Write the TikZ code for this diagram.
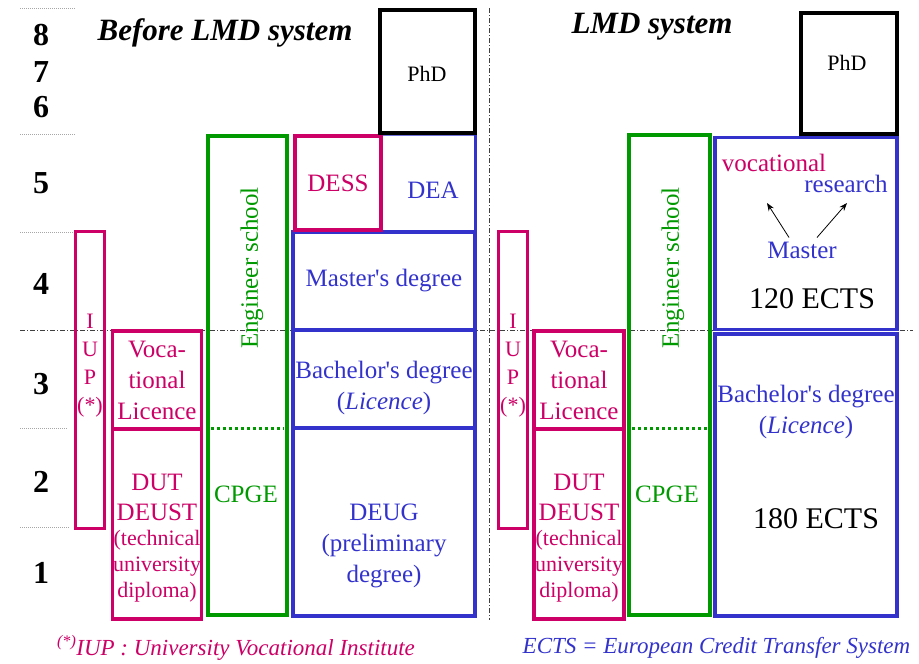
\documentclass[tikz,border=0pt]{standalone}
\usepackage{fontspec}
\setmainfont{Liberation Serif}[Ligatures=TeXOff]
\usetikzlibrary{arrows.meta}
\definecolor{lmdmagenta}{RGB}{204,0,102}
\definecolor{lmdblue}{RGB}{51,51,204}
\definecolor{lmdgreen}{RGB}{0,153,0}
\tikzset{
  lmdbox/.style={rectangle, line width=3.6pt, inner sep=0pt, align=center,
                 font=\fontsize{25}{31}\selectfont},
  profbox/.style={lmdbox, draw=lmdmagenta, text=lmdmagenta},
  unibox/.style={lmdbox, draw=lmdblue, text=lmdblue},
  engbox/.style={lmdbox, draw=lmdgreen, text=lmdgreen},
  phdbox/.style={lmdbox, draw=black, line width=4pt},
  lmdtext/.style={inner sep=0pt, align=center, font=\fontsize{25}{31}\selectfont},
  smalltext/.style={inner sep=0pt, align=center, font=\fontsize{22}{26}\selectfont},
  ectstext/.style={inner sep=0pt, font=\fontsize{30}{34}\selectfont},
  titletext/.style={inner sep=0pt, font=\bfseries\itshape\fontsize{31}{35}\selectfont},
  notetext/.style={inner sep=0pt, font=\itshape\fontsize{23}{27}\selectfont},
  levelnum/.style={inner sep=0pt, font=\bfseries\fontsize{32}{36}\selectfont},
  leveltick/.style={gray!70, line width=0.8pt, dash pattern=on 1pt off 1pt},
  yearline/.style={black!75, line width=0.7pt, dash pattern=on 5pt off 2pt on 1pt off 2pt},
  cpgeline/.style={lmdgreen, line width=3pt, dash pattern=on 3pt off 3pt},
  lmdarrow/.style={-{Stealth[length=8pt,width=6pt]}, line width=0.8pt},
}
\begin{document}
\begin{tikzpicture}[x=1pt, y=-1pt]
  \useasboundingbox (0,0) rectangle (919,664);
  % Niveaux (annees)
  \foreach \y/\e in {8/75,134/75,232/75,428/67,527/70}
    \draw[leveltick] (20,\y) -- (\e,\y);
  \foreach \n/\y in {8/35,7/72,6/107,5/183,4/284,3/384,2/482,1/573}
    \node[levelnum] (lvl\n) at (41,\y) {\n};
  \draw[yearline] (20,330) -- (913,330);
  \draw[yearline] (489,8) -- (489,620);
  % Titres
  \node[titletext] (titleold) at (225,33) {Before LMD system};
  \node[titletext] (titlenew) at (652,27) {LMD system};

  % ---- Avant LMD ----
  \node[unibox, minimum width=94, minimum height=97, line width=1pt, draw=lmdblue!70] (dea) at (428,183.5) {};
  \node[text=lmdblue, lmdtext] (deatxt) at (433,190) {DEA};
  \node[unibox, minimum width=182, minimum height=98] (mastL) at (384,281) {Master's degree};
  \draw[lmdblue, line width=3.6pt] (dea.north east) -- (dea.south east);
  \node[unibox, minimum width=182, minimum height=98] (bachL) at (384,379) {};
  \node[text=lmdblue, lmdtext] (bachLtxt) at (384,388) {Bachelor's degree\\(\textit{Licence})};
  \node[unibox, minimum width=182, minimum height=188] (deug) at (384,522) {};
  \node[text=lmdblue, lmdtext] (deugtxt) at (384,546) {DEUG\\(preliminary\\degree)};
  \node[profbox, minimum width=86, minimum height=94] (dess) at (338,183) {DESS};
  \node[phdbox, minimum width=95, minimum height=123] (phdL) at (427.5,71.5) {};
  \node[smalltext] (phdLtxt) at (427,74) {PhD};
  % ecoles d'ingenieurs
  \node[engbox, minimum width=79.5, minimum height=479] (engL) at (247.5,375.5) {};
  \node[lmdtext, text=lmdgreen, rotate=90] (engLtxt) at (252,268) {Engineer school};
  \node[lmdtext, text=lmdgreen] (cpgeL) at (246,494) {CPGE};
  \draw[cpgeline, shorten <=5pt, shorten >=5pt] (engL.west |- 0,428.5) -- (engL.east |- 0,428.5);
  % filieres professionnelles
  \node[profbox, line width=3pt, minimum width=28.5, minimum height=297] (iupL) at (90,379.5) {};
  \node[smalltext, text=lmdmagenta, font=\fontsize{22}{28}\selectfont] (iupLtxt) at (90,366) {I\\U\\P\\(*)};
  \node[profbox, minimum width=89, minimum height=97.5] (vocL) at (157,380) {Voca-\\tional\\Licence};
  \node[profbox, minimum width=89, minimum height=190.5] (dutL) at (157,524) {};
  \node[lmdtext, text=lmdmagenta, font=\fontsize{25}{30}\selectfont] (dutLtop) at (157,497) {DUT\\DEUST};
  \node[smalltext, text=lmdmagenta] (dutLbot) at (157,566) {(technical\\university\\diploma)};
  \node[notetext, text=lmdmagenta] (noteiup) at (236,648) {\textsuperscript{(*)}IUP : University Vocational Institute};

  % ---- Systeme LMD ----
  \node[unibox, minimum width=182.5, minimum height=192] (mastR) at (806,233.5) {};
  \node[unibox, minimum width=182.5, minimum height=282] (bachR) at (806,475) {};
  \node[phdbox, minimum width=96.5, minimum height=121] (phdR) at (849,73) {};
  \node[smalltext] (phdRtxt) at (847,63) {PhD};
  \node[lmdtext, text=lmdmagenta] (vocopt) at (774,163) {vocational};
  \node[lmdtext, text=lmdblue] (resopt) at (846,184) {research};
  \node[lmdtext, text=lmdblue] (mastRtxt) at (802,250) {Master};
  \coordinate (vocend) at (767,203);
  \coordinate (resend) at (847,203);
  \draw[lmdarrow] ([xshift=-13pt, yshift=4pt]mastRtxt.north) -- (vocend);
  \draw[lmdarrow] ([xshift=15pt, yshift=4pt]mastRtxt.north) -- (resend);
  \node[ectstext] (ects120) at (812,299) {120 ECTS};
  \node[lmdtext, text=lmdblue] (bachRtxt) at (806,412) {Bachelor's degree\\(\textit{Licence})};
  \node[ectstext] (ects180) at (816,519) {180 ECTS};
  % ecoles d'ingenieurs
  \node[engbox, minimum width=81, minimum height=479.5] (engR) at (669.5,375) {};
  \node[lmdtext, text=lmdgreen, rotate=90] (engRtxt) at (673,268) {Engineer school};
  \node[lmdtext, text=lmdgreen] (cpgeR) at (667,494) {CPGE};
  \draw[cpgeline, shorten <=5pt, shorten >=5pt] (engR.west |- 0,428.5) -- (engR.east |- 0,428.5);
  % filieres professionnelles
  \node[profbox, line width=3pt, minimum width=28.5, minimum height=297] (iupR) at (513,379.5) {};
  \node[smalltext, text=lmdmagenta, font=\fontsize{22}{28}\selectfont] (iupRtxt) at (513,366) {I\\U\\P\\(*)};
  \node[profbox, minimum width=90, minimum height=97.5] (vocR) at (579,380) {Voca-\\tional\\Licence};
  \node[profbox, minimum width=90, minimum height=190.5] (dutR) at (579,524) {};
  \node[lmdtext, text=lmdmagenta, font=\fontsize{25}{30}\selectfont] (dutRtop) at (579,497) {DUT\\DEUST};
  \node[smalltext, text=lmdmagenta] (dutRbot) at (579,566) {(technical\\university\\diploma)};
  \node[notetext, text=lmdblue] (noteects) at (716.5,648) {ECTS = European Credit Transfer System};
\end{tikzpicture}
\end{document}
